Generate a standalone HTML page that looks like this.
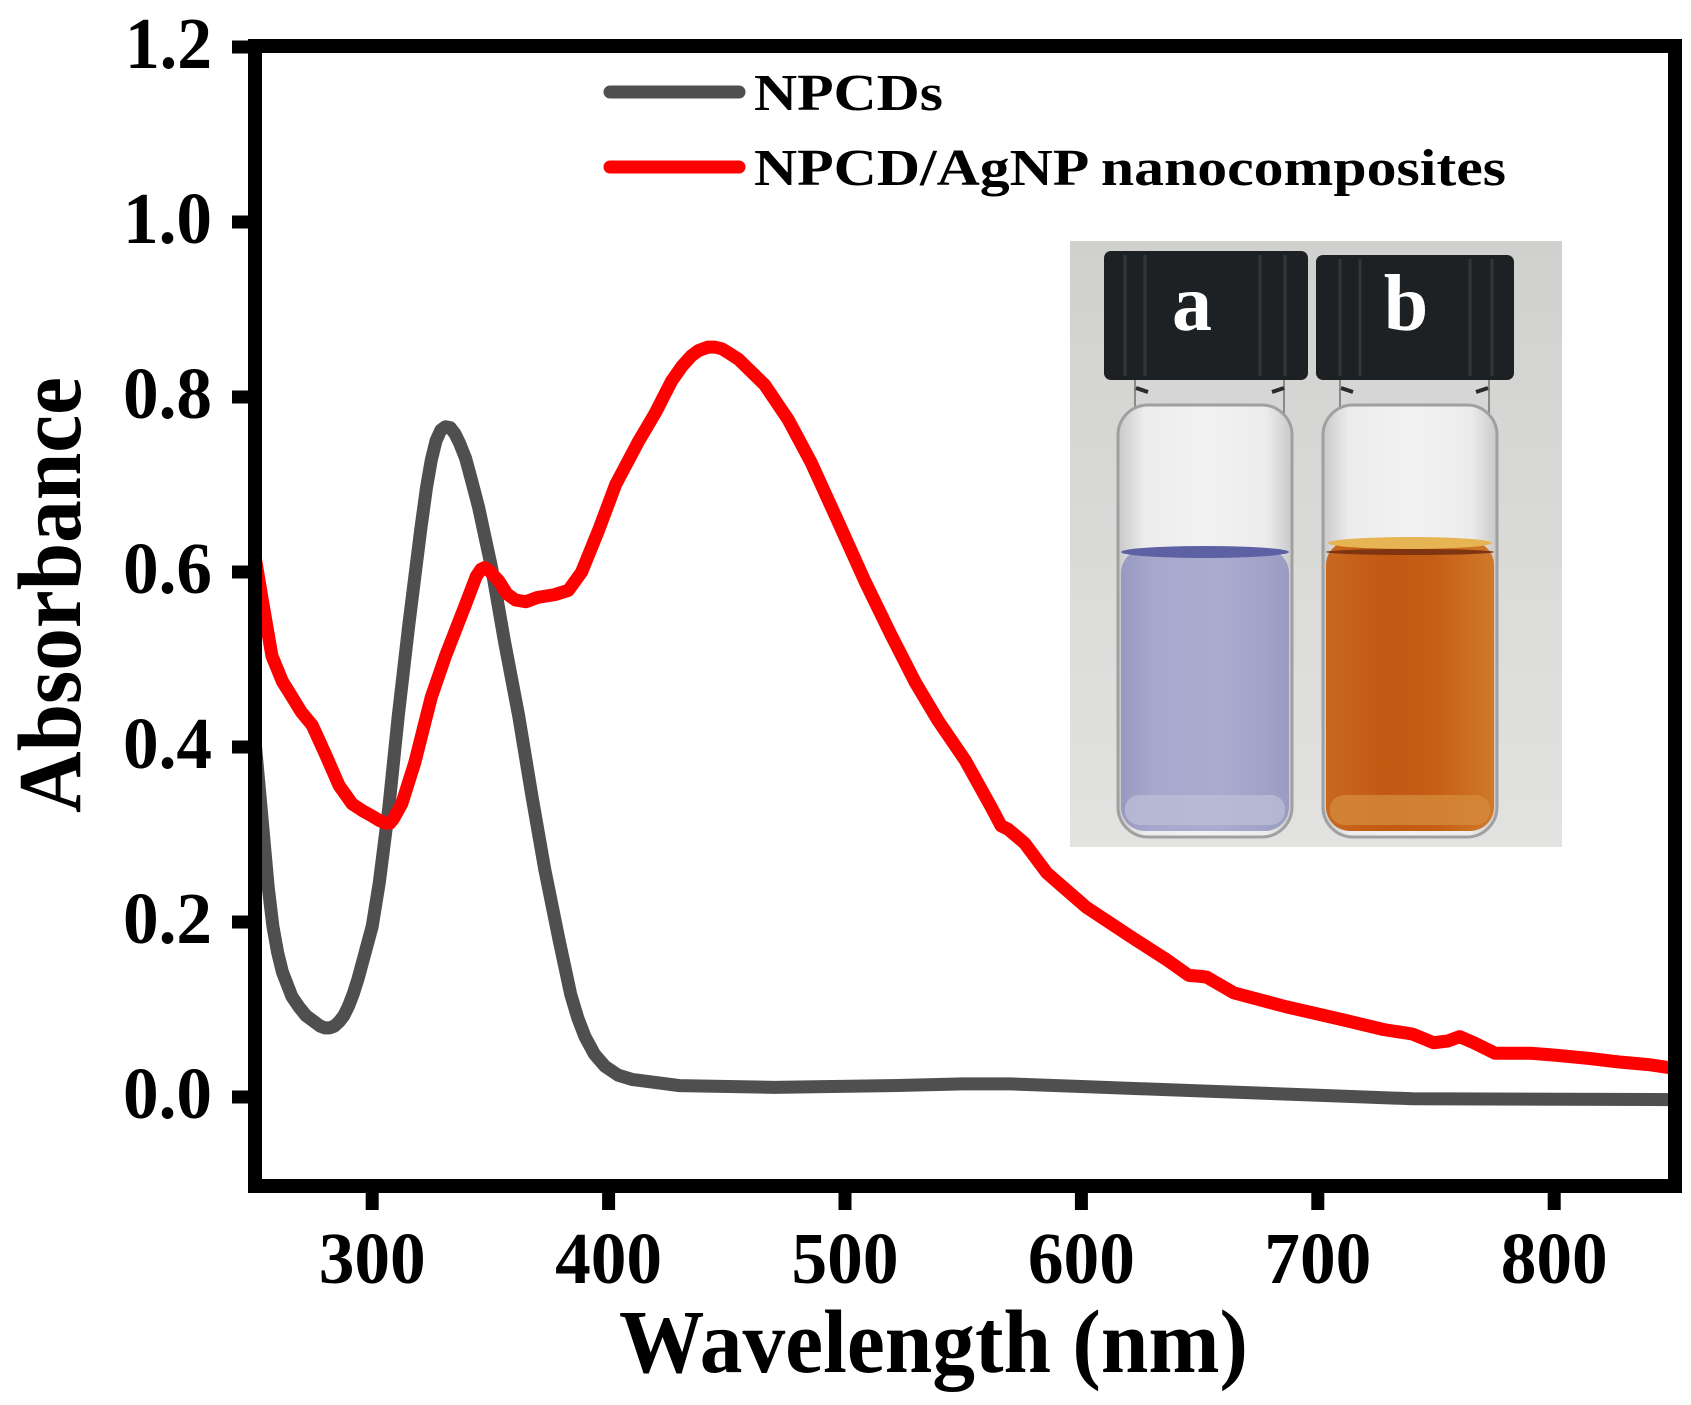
<!DOCTYPE html>
<html>
<head>
<meta charset="utf-8">
<style>
  html, body { margin: 0; padding: 0; background: #ffffff; }
  svg { display: block; }
  text { font-family: "Liberation Serif", "Times New Roman", serif; font-weight: bold; }
</style>
</head>
<body>
<svg width="1691" height="1405" viewBox="0 0 1691 1405" xmlns="http://www.w3.org/2000/svg">
  <defs>
    <linearGradient id="bg" x1="0" y1="0" x2="0" y2="1">
      <stop offset="0" stop-color="#d0d0ce"/>
      <stop offset="0.5" stop-color="#dadad8"/>
      <stop offset="1" stop-color="#e2e2e0"/>
    </linearGradient>
    <linearGradient id="glass" x1="0" y1="0" x2="1" y2="0">
      <stop offset="0" stop-color="#c9c9c9"/>
      <stop offset="0.15" stop-color="#ececec"/>
      <stop offset="0.5" stop-color="#f2f2f2"/>
      <stop offset="0.85" stop-color="#ececec"/>
      <stop offset="1" stop-color="#c9c9c9"/>
    </linearGradient>
    <linearGradient id="liqA" x1="0" y1="0" x2="1" y2="0">
      <stop offset="0" stop-color="#9799bf"/>
      <stop offset="0.2" stop-color="#a6a8cd"/>
      <stop offset="0.6" stop-color="#a9abcf"/>
      <stop offset="1" stop-color="#9a9cc2"/>
    </linearGradient>
    <linearGradient id="liqB" x1="0" y1="0" x2="1" y2="0">
      <stop offset="0" stop-color="#c8681f"/>
      <stop offset="0.35" stop-color="#c35912"/>
      <stop offset="0.65" stop-color="#c65e16"/>
      <stop offset="1" stop-color="#d07a2a"/>
    </linearGradient>
    <clipPath id="plot">
      <rect x="255" y="46" width="1420" height="1140"/>
    </clipPath>
  </defs>

  <!-- Inset photo -->
  <g>
    <rect x="1070" y="241" width="492" height="606" fill="url(#bg)"/>
    <!-- necks -->
    <rect x="1135" y="376" width="149" height="44" fill="#d6d6d6" stroke="#8a8a8a" stroke-width="2"/>
    <rect x="1340" y="376" width="149" height="44" fill="#d6d6d6" stroke="#8a8a8a" stroke-width="2"/>
    <g stroke="#2a2a2a" stroke-width="4">
      <line x1="1136" y1="388" x2="1148" y2="392"/>
      <line x1="1272" y1="392" x2="1284" y2="388"/>
      <line x1="1341" y1="388" x2="1353" y2="392"/>
      <line x1="1476" y1="392" x2="1488" y2="388"/>
    </g>
    <!-- vial a -->
    <rect x="1118" y="405" width="174" height="432" rx="30" fill="url(#glass)" stroke="#a0a0a0" stroke-width="3"/>
    <rect x="1121" y="549" width="168" height="282" rx="24" fill="url(#liqA)"/>
    <ellipse cx="1205" cy="552" rx="84" ry="6" fill="#5e60a4"/>
    <rect x="1125" y="795" width="160" height="30" rx="14" fill="#bcbdd6" opacity="0.8"/>
    <!-- vial b -->
    <rect x="1323" y="405" width="174" height="432" rx="30" fill="url(#glass)" stroke="#a0a0a0" stroke-width="3"/>
    <rect x="1326" y="541" width="168" height="290" rx="24" fill="url(#liqB)"/>
    <ellipse cx="1410" cy="543" rx="82" ry="6" fill="#e7b454"/>
    <ellipse cx="1410" cy="552" rx="84" ry="3" fill="#7e3510"/>
    <rect x="1330" y="795" width="160" height="30" rx="14" fill="#d58a3a" opacity="0.8"/>
    <!-- caps -->
    <rect x="1104" y="251" width="204" height="129" rx="7" fill="#1d2124"/>
    <rect x="1316" y="255" width="198" height="125" rx="7" fill="#1d2124"/>
    <g stroke="#30363b" stroke-width="3">
      <line x1="1125" y1="255" x2="1125" y2="376"/>
      <line x1="1145" y1="255" x2="1145" y2="376"/>
      <line x1="1260" y1="255" x2="1260" y2="376"/>
      <line x1="1285" y1="255" x2="1285" y2="376"/>
      <line x1="1340" y1="259" x2="1340" y2="376"/>
      <line x1="1360" y1="259" x2="1360" y2="376"/>
      <line x1="1470" y1="259" x2="1470" y2="376"/>
      <line x1="1492" y1="259" x2="1492" y2="376"/>
    </g>
    <text x="1192" y="330" font-size="80" fill="#ffffff" text-anchor="middle">a</text>
    <text x="1406" y="330" font-size="80" fill="#ffffff" text-anchor="middle">b</text>
  </g>

  <!-- Curves -->
  <g clip-path="url(#plot)">
    <g transform="translate(254,1097) scale(2.364,-875)">
      <path fill="none" stroke="#4f4f4f" stroke-width="13" stroke-linejoin="round" stroke-linecap="round" vector-effect="non-scaling-stroke"
        d="M0,0.42 L2,0.36 L4,0.30 L6,0.24 L8,0.195 L10,0.165 L12,0.143 L16,0.115 L19,0.103 L22,0.093 L26,0.085 L28,0.081 L30,0.079 L32,0.079 L34,0.081 L36,0.086 L38,0.093 L40,0.104 L42,0.118 L44,0.135 L47,0.165 L50,0.195 L53,0.245 L57,0.33 L61,0.435 L65.5,0.54 L70.5,0.648 L73,0.697 L75,0.728 L77,0.75 L79,0.762 L81,0.766 L83,0.765 L85,0.758 L87,0.747 L89.5,0.73 L92,0.705 L95,0.674 L100.5,0.605 L106,0.52 L112,0.435 L117.5,0.345 L123,0.26 L129,0.18 L134,0.117 L137,0.09 L140,0.069 L144,0.049 L148.5,0.035 L154,0.025 L160,0.02 L180,0.013 L220,0.011 L270,0.013 L300,0.015 L320,0.015 L350,0.012 L380,0.009 L410,0.006 L450,0.002 L490,-0.002 L600,-0.003"/>
      <path fill="none" stroke="#ff0000" stroke-width="13" stroke-linejoin="round" stroke-linecap="round" vector-effect="non-scaling-stroke"
        d="M0,0.625 L3.5,0.568 L7.6,0.504 L12,0.475 L15,0.462 L20,0.44 L24.6,0.425 L30,0.393 L36,0.356 L41.5,0.335 L46,0.327 L50,0.321 L53,0.316 L55.7,0.313 L57.5,0.313 L59,0.318 L62.5,0.335 L68,0.382 L75,0.457 L81,0.504 L89.5,0.563 L94,0.595 L96,0.603 L97.5,0.605 L99,0.603 L101,0.597 L103.5,0.59 L107,0.575 L110.6,0.568 L115,0.566 L120,0.571 L127,0.574 L133,0.579 L138.6,0.6 L145.8,0.648 L153,0.70 L162.6,0.749 L169.8,0.782 L176.6,0.818 L181,0.835 L185,0.847 L188,0.853 L192,0.857 L195,0.857 L198,0.855 L201,0.85 L205,0.843 L216,0.814 L226,0.774 L235.7,0.725 L247,0.658 L258.5,0.589 L269.5,0.528 L279.7,0.474 L289.4,0.43 L300.8,0.385 L311.9,0.331 L316,0.31 L319,0.306 L326,0.29 L335.4,0.256 L352,0.217 L371,0.183 L386,0.157 L395.4,0.139 L400,0.138 L403,0.137 L414.5,0.119 L436.8,0.103 L461,0.088 L478,0.077 L490,0.072 L499,0.062 L505,0.064 L510,0.069 L516,0.062 L525,0.05 L540,0.05 L549.6,0.048 L565,0.044 L577.5,0.04 L590,0.037 L600,0.033"/>
    </g>
  </g>

  <!-- Frame -->
  <rect x="255" y="46" width="1420" height="1140" fill="none" stroke="#000000" stroke-width="14"/>

  <!-- Y ticks -->
  <g stroke="#000000" stroke-width="13">
    <line x1="232" y1="47" x2="255" y2="47"/>
    <line x1="232" y1="222" x2="255" y2="222"/>
    <line x1="232" y1="397" x2="255" y2="397"/>
    <line x1="232" y1="572" x2="255" y2="572"/>
    <line x1="232" y1="747" x2="255" y2="747"/>
    <line x1="232" y1="922" x2="255" y2="922"/>
    <line x1="232" y1="1097" x2="255" y2="1097"/>
  </g>
  <!-- X ticks -->
  <g stroke="#000000" stroke-width="13">
    <line x1="372.2" y1="1186" x2="372.2" y2="1210"/>
    <line x1="608.6" y1="1186" x2="608.6" y2="1210"/>
    <line x1="845" y1="1186" x2="845" y2="1210"/>
    <line x1="1081.4" y1="1186" x2="1081.4" y2="1210"/>
    <line x1="1317.8" y1="1186" x2="1317.8" y2="1210"/>
    <line x1="1554.2" y1="1186" x2="1554.2" y2="1210"/>
  </g>

  <!-- Y tick labels -->
  <g font-size="73" fill="#000000" text-anchor="end">
    <text x="212" y="68" textLength="87" lengthAdjust="spacingAndGlyphs">1.2</text>
    <text x="212" y="243" textLength="89" lengthAdjust="spacingAndGlyphs">1.0</text>
    <text x="212" y="418" textLength="89" lengthAdjust="spacingAndGlyphs">0.8</text>
    <text x="212" y="593" textLength="89" lengthAdjust="spacingAndGlyphs">0.6</text>
    <text x="212" y="768" textLength="89" lengthAdjust="spacingAndGlyphs">0.4</text>
    <text x="212" y="943" textLength="89" lengthAdjust="spacingAndGlyphs">0.2</text>
    <text x="212" y="1118" textLength="89" lengthAdjust="spacingAndGlyphs">0.0</text>
  </g>

  <!-- X tick labels -->
  <g font-size="73" fill="#000000" text-anchor="middle">
    <text x="372.2" y="1283" textLength="107" lengthAdjust="spacingAndGlyphs">300</text>
    <text x="608.6" y="1283" textLength="107" lengthAdjust="spacingAndGlyphs">400</text>
    <text x="845" y="1283" textLength="107" lengthAdjust="spacingAndGlyphs">500</text>
    <text x="1081.4" y="1283" textLength="107" lengthAdjust="spacingAndGlyphs">600</text>
    <text x="1317.8" y="1283" textLength="107" lengthAdjust="spacingAndGlyphs">700</text>
    <text x="1554.2" y="1283" textLength="107" lengthAdjust="spacingAndGlyphs">800</text>
  </g>

  <!-- Axis labels -->
  <text x="933.5" y="1372" font-size="90" fill="#000000" text-anchor="middle" textLength="629" lengthAdjust="spacingAndGlyphs">Wavelength (nm)</text>
  <text transform="translate(80,595) rotate(-90)" x="0" y="0" font-size="90" fill="#000000" text-anchor="middle" textLength="436" lengthAdjust="spacingAndGlyphs">Absorbance</text>

  <!-- Legend -->
  <line x1="610" y1="92" x2="739" y2="92" stroke="#4f4f4f" stroke-width="13" stroke-linecap="round"/>
  <line x1="610" y1="167" x2="739" y2="167" stroke="#ff0000" stroke-width="13" stroke-linecap="round"/>
  <text x="754" y="110" font-size="52" fill="#000000" textLength="189" lengthAdjust="spacingAndGlyphs">NPCDs</text>
  <text x="754" y="185" font-size="52" fill="#000000" textLength="752" lengthAdjust="spacingAndGlyphs">NPCD/AgNP nanocomposites</text>
</svg>
</body>
</html>
